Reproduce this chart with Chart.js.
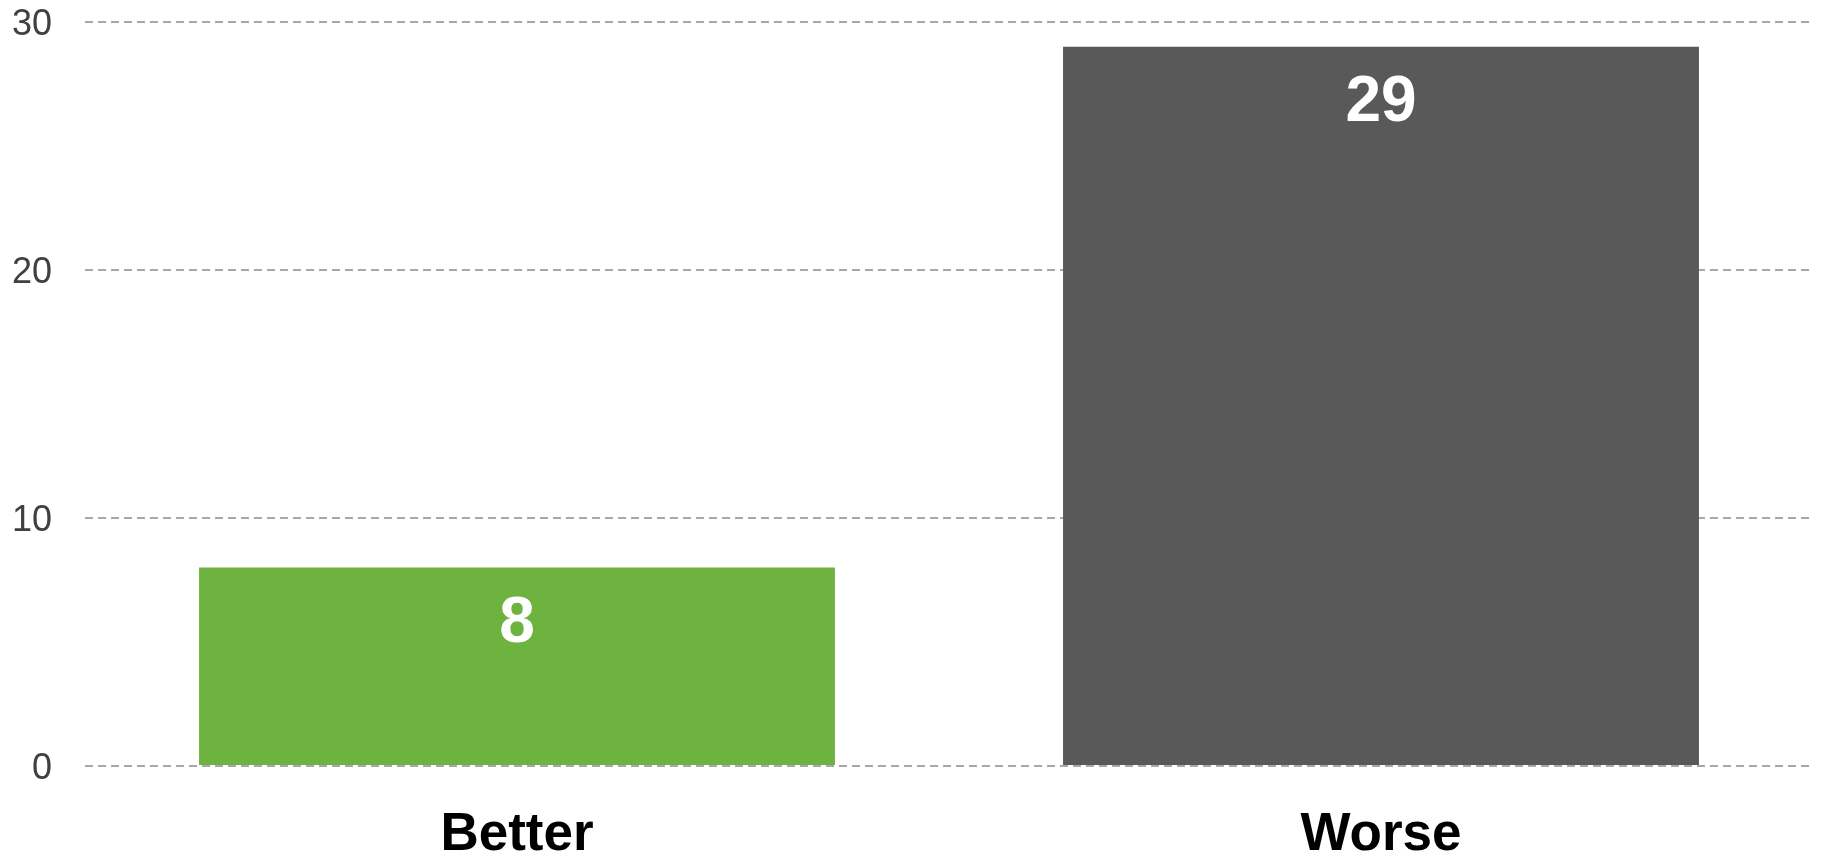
<!DOCTYPE html>
<html>
<head>
<meta charset="utf-8">
<script src="https://cdn.jsdelivr.net/npm/chart.js@4"></script>
<style>
  html, body { margin: 0; padding: 0; background: #fff; }
  #wrap { width: 1824px; height: 852px; position: relative; }
</style>
</head>
<body>
<div id="wrap"><canvas id="c"></canvas></div>
<script>
const categories = ['Better', 'Worse'];
const values = [8, 29];
const barColors = ['#6EB33F', '#595959'];
const yTicks = [0, 10, 20, 30];

const valueLabels = {
  id: 'valueLabels',
  afterDatasetsDraw(chart) {
    const ctx = chart.ctx;
    const meta = chart.getDatasetMeta(0);
    ctx.save();
    ctx.fillStyle = '#ffffff';
    ctx.font = 'bold 64px "Liberation Sans", Arial, sans-serif';
    ctx.textAlign = 'center';
    ctx.textBaseline = 'middle';
    meta.data.forEach((bar, i) => {
      ctx.fillText(String(values[i]), bar.x, bar.y + 57);
    });
    ctx.restore();
  }
};

new Chart(document.getElementById('c'), {
  type: 'bar',
  data: {
    labels: categories,
    datasets: [{
      data: values,
      backgroundColor: barColors,
      borderWidth: 0,
      barPercentage: 0.736,
      categoryPercentage: 1.0
    }]
  },
  options: {
    responsive: true,
    maintainAspectRatio: false,
    animation: false,
    devicePixelRatio: 1,
    layout: { padding: { top: 22, right: 11, left: 0, bottom: 0 } },
    plugins: {
      legend: { display: false },
      tooltip: { enabled: false }
    },
    scales: {
      x: {
        grid: { display: false, drawTicks: false },
        border: { display: false },
        ticks: {
          color: '#000000',
          font: { family: '"Liberation Sans", Arial, sans-serif', size: 53, weight: 'bold' },
          padding: 38
        },
        afterFit(scale) { scale.height = 86; scale.paddingLeft = 0; scale.paddingRight = 0; }
      },
      y: {
        min: 0,
        max: 30,
        afterBuildTicks(scale) { scale.ticks = yTicks.map(v => ({ value: v })); },
        grid: {
          color: '#a8a8a8',
          lineWidth: 2,
          drawTicks: false
        },
        border: { display: false, dash: [8, 5] },
        ticks: {
          color: '#404040',
          font: { family: '"Liberation Sans", Arial, sans-serif', size: 36 },
          padding: 33,
          labelOffset: 3
        },
        afterFit(scale) { scale.width = 85; scale.paddingTop = 0; scale.paddingBottom = 0; }
      }
    }
  },
  plugins: [valueLabels]
});
</script>
</body>
</html>
